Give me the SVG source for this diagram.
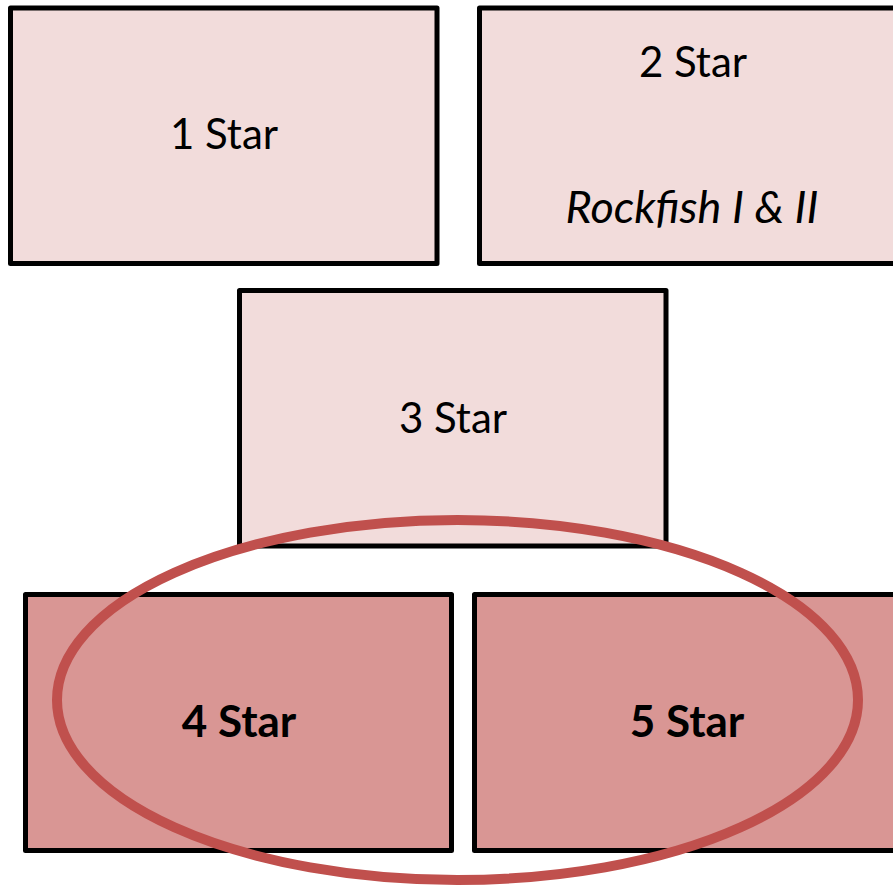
<svg xmlns="http://www.w3.org/2000/svg" width="893" height="889" viewBox="0 0 893 889">
<style>
.box{stroke:#000;stroke-width:5;stroke-linejoin:round}
.light{fill:#F2DCDB}
.dark{fill:#D99694}
.t{font-family:Lato,"Open Sans","Liberation Sans",sans-serif;font-size:42px;fill:#000;text-anchor:middle}
.b{font-weight:bold;font-size:44px}
.i{font-style:italic;font-size:45px}
</style>
<rect width="893" height="889" fill="#fff"/>
<g id="node-1star">
<rect class="box light" x="10.5" y="8" width="426.5" height="255.5"/>
<text class="t" x="224" y="149">1 Star</text>
</g>
<g id="node-2star">
<rect class="box light" x="479.5" y="8" width="427" height="255.5"/>
<text class="t" x="693" y="77">2 Star</text>
<text class="t i" x="692" y="223">Rockfish I &amp; II</text>
</g>
<g id="node-3star">
<rect class="box light" x="239.5" y="290.5" width="426.5" height="255.5"/>
<text class="t" x="453" y="433">3 Star</text>
</g>
<g id="node-4star">
<rect class="box dark" x="25.5" y="594.5" width="426" height="256"/>
<text class="t b" x="239" y="737">4 Star</text>
</g>
<g id="node-5star">
<rect class="box dark" x="474.5" y="594.5" width="427" height="256"/>
<text class="t b" x="687" y="737">5 Star</text>
</g>
<g id="connectors">
<ellipse id="highlight" cx="457.5" cy="700" rx="400.5" ry="180" fill="none" stroke="#C0504D" stroke-width="10"/>
</g>
</svg>
